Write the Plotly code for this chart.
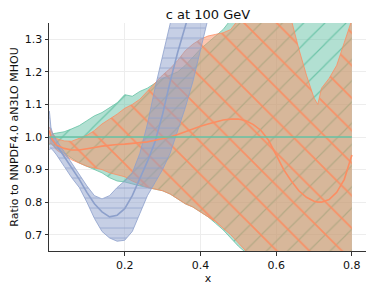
import plotly.graph_objects as go

# ---------------- data ----------------
x = [0.001, 0.005, 0.01, 0.02, 0.04, 0.06, 0.08, 0.10, 0.12, 0.14, 0.16, 0.18, 0.20,
     0.22, 0.24, 0.26, 0.28, 0.30, 0.32, 0.34, 0.36, 0.38, 0.40, 0.42, 0.44, 0.46,
     0.48, 0.50, 0.52, 0.54, 0.56, 0.58, 0.60, 0.62, 0.64, 0.66, 0.68, 0.70, 0.71,
     0.72, 0.74, 0.76, 0.78, 0.80]

# reference: NNPDF4.0 aN3LO MHOU (green)
green_central = [1.0] * len(x)
green_upper = [1.0, 1.005, 1.01, 1.012, 1.016, 1.025, 1.035, 1.05, 1.065, 1.075, 1.09, 1.105, 1.13,
               1.125, 1.14, 1.15, 1.165, 1.18, 1.19, 1.20, 1.22, 1.245, 1.27, 1.29, 1.31, 1.33,
               1.36, 1.40, 1.44, 1.48, 1.50, 1.52, 1.54, 1.55, 1.56, 1.57, 1.58, 1.58, 1.58,
               1.58, 1.58, 1.58, 1.58, 1.58]
green_lower = [0.975, 0.98, 0.975, 0.965, 0.95, 0.935, 0.92, 0.91, 0.90, 0.89, 0.875, 0.865, 0.862,
               0.855, 0.85, 0.845, 0.84, 0.835, 0.825, 0.81, 0.795, 0.785, 0.77, 0.755, 0.735, 0.715,
               0.69, 0.665, 0.645, 0.62, 0.60, 0.58, 0.56, 0.54, 0.52, 0.50, 0.48, 0.46, 0.45,
               0.44, 0.42, 0.40, 0.38, 0.36]

# orange
orange_central = [1.02, 1.0, 0.99, 0.975, 0.965, 0.96, 0.96, 0.963, 0.968, 0.972, 0.975, 0.977, 0.978,
                  0.98, 0.982, 0.985, 0.99, 0.995, 1.0, 1.008, 1.017, 1.025, 1.033, 1.04, 1.047, 1.052,
                  1.055, 1.055, 1.05, 1.038, 1.02, 0.99, 0.945, 0.90, 0.865, 0.835, 0.815, 0.803, 0.80,
                  0.80, 0.808, 0.83, 0.87, 0.945]
orange_upper = [1.03, 1.02, 1.01, 0.995, 0.988, 0.987, 0.995, 1.005, 1.02, 1.04, 1.055, 1.07, 1.088,
                1.10, 1.116, 1.14, 1.165, 1.19, 1.21, 1.235, 1.265, 1.285, 1.30, 1.31, 1.315, 1.32,
                1.33, 1.36, 1.40, 1.43, 1.45, 1.46, 1.45, 1.42, 1.36, 1.27, 1.19, 1.12, 1.10,
                1.15, 1.18, 1.22, 1.29, 1.36]
orange_lower = [0.98, 0.98, 0.975, 0.96, 0.945, 0.93, 0.92, 0.91, 0.905, 0.90, 0.89, 0.885, 0.878,
                0.865, 0.855, 0.845, 0.84, 0.835, 0.825, 0.81, 0.795, 0.785, 0.77, 0.755, 0.74, 0.72,
                0.70, 0.675, 0.65, 0.62, 0.60, 0.58, 0.56, 0.54, 0.52, 0.50, 0.48, 0.46, 0.45,
                0.44, 0.42, 0.40, 0.38, 0.36]

# blue (defined up to x = 0.44, beyond it leaves the frame)
blue_central = [1.0, 0.995, 0.99, 0.975, 0.94, 0.905, 0.87, 0.83, 0.795, 0.77, 0.755, 0.76, 0.78,
                0.82, 0.87, 0.925, 0.985, 1.07, 1.17, 1.26, 1.34, 1.42, 1.50, 1.58, 1.66]
blue_upper = [1.08, 1.03, 1.01, 0.99, 0.955, 0.92, 0.885, 0.85, 0.82, 0.81, 0.82, 0.845, 0.865,
              0.89, 0.95, 1.04, 1.15, 1.25, 1.34, 1.44, 1.54, 1.64, 1.74, 1.84, 1.94]
blue_lower = [0.96, 0.965, 0.96, 0.945, 0.91, 0.875, 0.845, 0.80, 0.75, 0.71, 0.69, 0.68, 0.683,
              0.71, 0.765, 0.82, 0.86, 0.90, 0.95, 1.02, 1.09, 1.17, 1.26, 1.36, 1.46]

x_ticks = [0.2, 0.4, 0.6, 0.8]
y_ticks = [0.7, 0.8, 0.9, 1.0, 1.1, 1.2, 1.3]

GREEN = "#66c2a5"
ORANGE = "#fc8d62"
BLUE = "#8da0cb"

fig = go.Figure()


def band(xs, lo, hi, color, fill, shape, size):
    fig.add_trace(go.Scatter(x=xs, y=lo, mode="lines", line=dict(color=color, width=0.8),
                             showlegend=False, hoverinfo="skip"))
    fig.add_trace(go.Scatter(x=xs, y=hi, mode="lines", line=dict(color=color, width=0.8),
                             fill="tonexty", fillcolor=fill,
                             fillpattern=dict(shape=shape, size=size, solidity=0.08,
                                              fgcolor=color, bgcolor=fill, fgopacity=0.9),
                             showlegend=False, hoverinfo="skip"))


band(x, green_lower, green_upper, GREEN, "rgba(102,194,165,0.5)", "/", 15)
band(x, orange_lower, orange_upper, ORANGE, "rgba(252,141,98,0.5)", "\\", 23)
xb = x[:len(blue_central)]
band(xb, blue_lower, blue_upper, BLUE, "rgba(141,160,203,0.5)", "-", 10)

fig.add_trace(go.Scatter(x=xb, y=blue_central, mode="lines", line=dict(color=BLUE, width=1.6),
                         showlegend=False))
fig.add_trace(go.Scatter(x=x, y=orange_central, mode="lines", line=dict(color=ORANGE, width=1.6),
                         showlegend=False))
fig.add_trace(go.Scatter(x=x, y=green_central, mode="lines", line=dict(color=GREEN, width=1.6),
                         showlegend=False))

axis_common = dict(showline=True, linecolor="#333333", linewidth=1, ticks="outside",
                   ticklen=3.5, tickcolor="#333333", showgrid=True, gridcolor="#ededed",
                   gridwidth=0.8, zeroline=False, mirror=False, automargin=False,
                   tickfont=dict(family="DejaVu Sans", size=11, color="#111111"))

# page body has an 8px default margin, so the figure is 8px smaller and shifted
fig.update_layout(
    width=366, height=277,
    margin=dict(l=41, r=7, t=15, b=34),
    plot_bgcolor="white", paper_bgcolor="white",
    title=dict(text="c at 100 GeV", xref="paper", x=0.5, xanchor="center",
               yref="container", y=0.976, yanchor="middle",
               font=dict(family="DejaVu Sans", size=13, color="#111111")),
    xaxis=dict(range=[0.0, 0.84], tickvals=x_ticks, ticktext=["0.2", "0.4", "0.6", "0.8"],
               title=dict(text="x", font=dict(family="DejaVu Sans", size=11, color="#111111"),
                          standoff=2),
               **axis_common),
    yaxis=dict(range=[0.65, 1.35], tickvals=y_ticks, tickformat=".1f",
               title=dict(text="Ratio to NNPDF4.0 aN3LO MHOU",
                          font=dict(family="DejaVu Sans", size=11, color="#111111"),
                          standoff=4),
               **axis_common),
)

fig.write_html("out.html")
